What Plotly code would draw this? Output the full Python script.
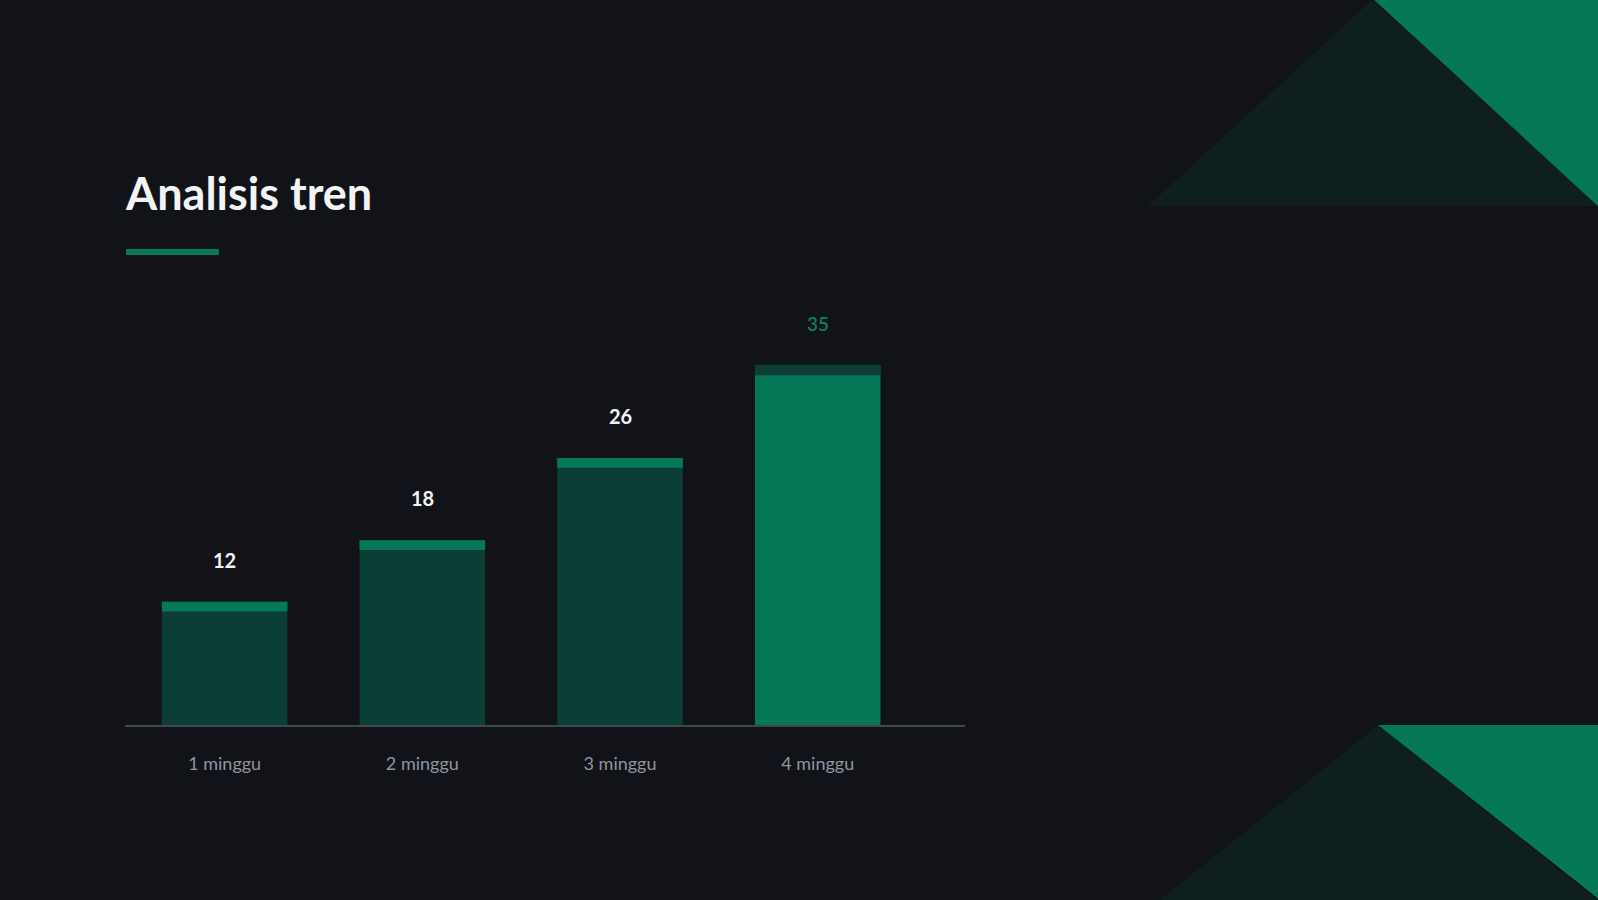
import plotly.graph_objects as go

categories = ["1 minggu", "2 minggu", "3 minggu", "4 minggu"]
values = [12, 18, 26, 35]
highlight = [False, False, False, True]
title_text = "Analisis tren"

W, H = 1598, 900
ML, MR, MT, MB = 125, 633, 300, 175
PW, PH = W - ML - MR, H - MT - MB

BG = "#121318"
GREEN = "#047857"
DARK = "#0b3e34"
TRI_DARK = "#0f1e1e"
CAP = 0.95  # cap thickness in value units

def px(x):
    return (x - ML) / PW

def py(y):
    return (H - MB - y) / PH

body_colors = [GREEN if h else DARK for h in highlight]
cap_colors = [DARK if h else GREEN for h in highlight]

fig = go.Figure()
fig.add_trace(go.Bar(
    x=categories, y=values, marker=dict(color=body_colors, line=dict(width=0)),
    width=0.635, hoverinfo="skip",
))
fig.add_trace(go.Bar(
    x=categories, y=[CAP] * len(values), base=[v - CAP for v in values],
    marker=dict(color=cap_colors, line=dict(width=0)), width=0.635, hoverinfo="skip",
))

for c, v, h in zip(categories, values, highlight):
    fig.add_annotation(
        x=c, y=v, text=str(v), showarrow=False, yanchor="middle", yshift=42,
        font=dict(family="Lato", size=19 if h else 20, color="#07805a" if h else "#f2f3f5",
                  weight=600 if h else "bold"),
    )

# title
fig.add_annotation(
    xref="paper", yref="paper", x=px(123), y=py(193), xanchor="left", yanchor="middle",
    text=title_text, showarrow=False,
    font=dict(family="Lato", size=45, color="#f2f3f5", weight="bold"),
)

shapes = []
# underline
shapes.append(dict(type="rect", xref="paper", yref="paper",
                   x0=px(126), x1=px(219), y0=py(249), y1=py(255),
                   fillcolor=GREEN, line=dict(width=0), layer="below"))

def tri(points, color):
    path = "M " + " L ".join(f"{px(a):.5f},{py(b):.5f}" for a, b in points) + " Z"
    return dict(type="path", xref="paper", yref="paper", path=path,
                fillcolor=color, line=dict(width=0), layer="below")

shapes.append(tri([(1148, 206), (1372, 0), (1600, 206)], TRI_DARK))
shapes.append(tri([(1372, -2), (1600, -2), (1600, 208)], GREEN))
shapes.append(tri([(1158, 902), (1378, 725), (1600, 902)], TRI_DARK))
shapes.append(tri([(1378, 725), (1600, 725), (1600, 900)], GREEN))

fig.update_layout(
    width=W, height=H, barmode="overlay", showlegend=False,
    paper_bgcolor=BG, plot_bgcolor=BG,
    margin=dict(l=ML, r=MR, t=MT, b=MB, pad=0),
    shapes=shapes,
    font=dict(family="Lato"),
    xaxis=dict(
        range=[-0.504, 3.745], showgrid=False, zeroline=False,
        showline=True, linecolor="#44464d", linewidth=2,
        tickfont=dict(family="Lato", size=18, color="#8f95a0"),
        ticks="", ticklabelstandoff=21, fixedrange=True,
    ),
    yaxis=dict(range=[0, PH / 10.27], visible=False, fixedrange=True),
)

fig.write_html(
    "out.html",
    config={"displayModeBar": False},
    post_script="document.body.style.margin='0';document.body.style.overflow='hidden';document.body.style.background='#121318';",
)
